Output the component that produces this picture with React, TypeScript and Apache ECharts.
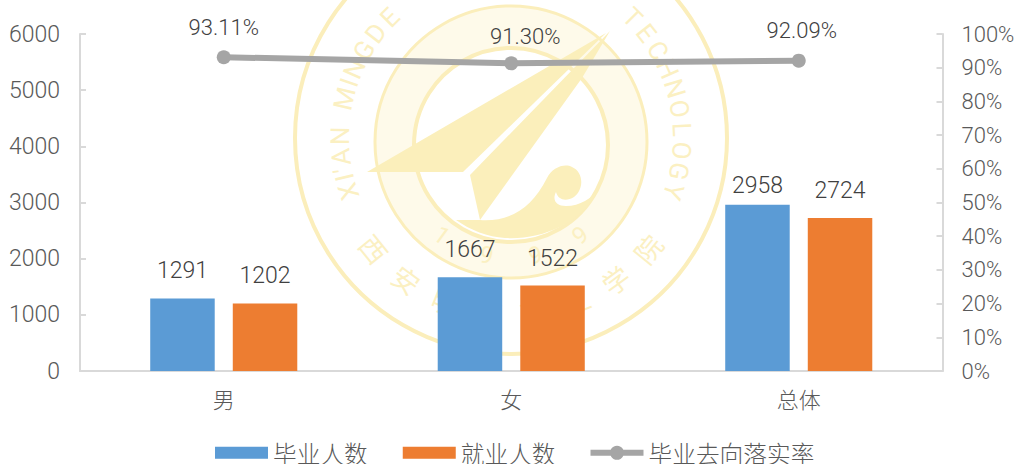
import React, { useEffect, useRef } from "react";
import * as echarts from "echarts";

const categories = ["男", "女", "总体"];
const graduates = [1291, 1667, 2958];
const employed = [1202, 1522, 2724];
const rate = [93.11, 91.3, 92.09];
const seriesNames = ["毕业人数", "就业人数", "毕业去向落实率"];
const sealEnglish = "XI'AN MINGDE INSTITUTE OF TECHNOLOGY";
const sealChinese = "西安明德理工学院";
const sealYear = "1999";

const FONT = 'Roboto, "Noto Sans CJK SC", sans-serif';
const CJK = '"Noto Sans CJK SC", Roboto, sans-serif';
const SEAL = "#fbf0c2";
const SEAL_STRONG = "#fbeebb";

const RECT_ICON = "path://M0 1H53V13H0Z M0 0H.01V.01H0Z M0 14H.01V13.99H0Z";
const LINE_ICON = "path://M0 4H53V10H0Z M26.5 0A7 7 0 1 1 26.49 0Z";

echarts.graphic.registerShape(
  "sealSwirl",
  echarts.graphic.extendPath(
    "M480 220 C510 222 532 208 547 178 C552 168 564 163 572 167 C584 172 584 190 574 197 C566 202 558 200 556 192 C552 200 556 206 566 206 C580 206 592 198 598 190 C580 225 540 240 505 238 C488 237 470 230 456 220 Z",
    {}
  ) as any
);

function letterWeight(c: string): number {
  if (c === "'") return 0.3;
  if (c === "I") return 0.4;
  if (c === " ") return 0.7;
  if (c === "M") return 1.2;
  return 1;
}

function makeSealElements(): any[] {
  const cx = 511;
  const cy = 140;
  const els: any[] = [];
  const z = 0;
  els.push({ type: "circle", z, silent: true, shape: { cx, cy: 138, r: 216 }, style: { fill: "none", stroke: SEAL_STRONG, lineWidth: 4 } });
  els.push({ type: "circle", z, silent: true, shape: { cx, cy: 142, r: 136 }, style: { fill: "#fefaea", stroke: SEAL_STRONG, lineWidth: 3 } });
  els.push({ type: "circle", z, silent: true, shape: { cx, cy: 145, r: 97 }, style: { fill: "#ffffff", stroke: SEAL_STRONG, lineWidth: 4 } });
  els.push({ type: "polygon", z, silent: true, shape: { points: [[367, 172], [606, 33], [463, 172]] }, style: { fill: "#fbefbb" } });
  els.push({ type: "polygon", z, silent: true, shape: { points: [[610, 31], [582, 78], [480, 220], [470, 175]] }, style: { fill: "#fbefbb" } });
  els.push({ type: "sealSwirl", z, silent: true, x: 0, y: 0, style: { fill: "#fbefbb" } });
  const chars = sealEnglish.split("");
  const total = chars.reduce((s, c) => s + letterWeight(c), 0);
  let run = 0;
  chars.forEach((c) => {
    const w = letterWeight(c);
    const d = -201.7 + ((run + w / 2) / total) * 223.4;
    run += w;
    if (c === " ") return;
    const a = (d * Math.PI) / 180;
    const x = cx + 171 * Math.cos(a);
    const y = 138 + 171 * Math.sin(a);
    if (y < 16) return;
    els.push({
      type: "text", z, silent: true, x, y,
      rotation: (-(d + 90) * Math.PI) / 180,
      style: { text: c, fill: SEAL, font: `400 26px ${FONT}`, align: "center", verticalAlign: "middle" },
    });
  });
  sealChinese.split("").forEach((c, i) => {
    const off = -51 + (i * 102) / (sealChinese.length - 1);
    const a = ((90 - off) * Math.PI) / 180;
    els.push({
      type: "text", z, silent: true, x: cx + 176 * Math.cos(a), y: 138 + 176 * Math.sin(a),
      rotation: (off * Math.PI) / 180,
      style: { text: c, fill: SEAL, font: `400 27px ${CJK}`, align: "center", verticalAlign: "middle" },
    });
  });
  [-36, -12, 12, 36].forEach((off, i) => {
    const a = ((90 - off) * Math.PI) / 180;
    els.push({
      type: "text", z, silent: true, x: cx + 118 * Math.cos(a), y: cy + 118 * Math.sin(a),
      rotation: (off * Math.PI) / 180,
      style: { text: sealYear[i], fill: SEAL, font: `400 24px ${FONT}`, align: "center", verticalAlign: "middle" },
    });
  });
  return els;
}

export default function App() {
  const ref = useRef<HTMLDivElement>(null);
  useEffect(() => {
    document.body.style.margin = "0";
    const chart = echarts.init(ref.current!, undefined, { renderer: "svg" });
    const axisLine = { show: true, lineStyle: { color: "#D9D9D9", width: 2 } };
    const axisTick = { show: true, inside: true, length: 6, lineStyle: { color: "#D9D9D9", width: 2 } };
    const axisLabel = { color: "#595959", fontSize: 22, fontWeight: 300, fontFamily: FONT };
    const barLabel = { show: true, position: "top", distance: 16, color: "#404040", fontSize: 23, fontWeight: 300, fontFamily: FONT };
    chart.setOption({
      animation: false,
      backgroundColor: "#ffffff",
      textStyle: { fontFamily: FONT },
      grid: { left: 80, right: 71.5, top: 34, bottom: 93, containLabel: false, outerBoundsMode: "none" },
      legend: {
        left: 210,
        top: 436,
        itemWidth: 53,
        itemHeight: 14,
        itemGap: 35,
        selectedMode: false,
        data: [
          { name: seriesNames[0], icon: RECT_ICON },
          { name: seriesNames[1], icon: RECT_ICON },
          { name: seriesNames[2], icon: LINE_ICON },
        ],
        textStyle: { color: "#595959", fontSize: 23.7, lineHeight: 22, fontWeight: 300, fontFamily: CJK },
      },
      xAxis: {
        type: "category",
        data: categories,
        axisLine,
        axisTick: { show: false },
        axisLabel: { ...axisLabel, fontFamily: CJK, margin: 16 },
      },
      yAxis: [
        { type: "value", min: 0, max: 6000, interval: 1000, axisLine, axisTick, splitLine: { show: false }, axisLabel: { ...axisLabel, fontSize: 23, margin: 20, formatter: (v: number) => String(v) } },
        { type: "value", min: 0, max: 100, interval: 10, position: "right", axisLine, axisTick, splitLine: { show: false }, axisLabel: { ...axisLabel, margin: 19, formatter: "{value}%" } },
      ],
      series: [
        {
          name: seriesNames[0], type: "bar", barWidth: 64.5, barGap: "28%", itemStyle: { color: "#5B9BD5" }, label: barLabel,
          data: graduates.map((value, i) => (i === 2 ? { value, label: { offset: [0, 8] } } : value)),
        },
        { name: seriesNames[1], type: "bar", data: employed, barWidth: 64.5, itemStyle: { color: "#ED7D31" }, label: barLabel },
        {
          name: seriesNames[2], type: "line", yAxisIndex: 1, symbol: "circle", symbolSize: 14,
          data: rate.map((value, i) => (i === 1 ? { value, label: { offset: [14, 3] } } : i === 2 ? { value, label: { offset: [3, 0] } } : value)),
          lineStyle: { color: "#A5A5A5", width: 6 },
          itemStyle: { color: "#A5A5A5" },
          label: {
            show: true, position: "top", distance: 12, color: "#404040", fontSize: 22, fontWeight: 300, fontFamily: FONT,
            formatter: (p: any) => `${Number(p.value).toFixed(2)}%`,
          },
        },
      ],
      graphic: { elements: makeSealElements() },
    });
    return () => chart.dispose();
  }, []);
  return <div ref={ref} style={{ width: 1014, height: 464 }} />;
}
